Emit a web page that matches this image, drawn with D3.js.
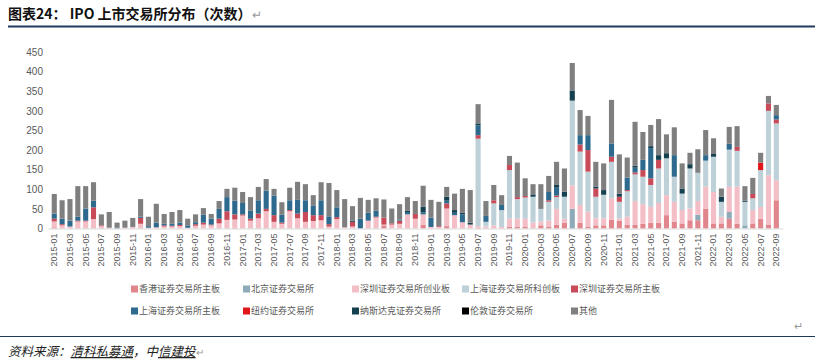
<!DOCTYPE html>
<html>
<head>
<meta charset="utf-8">
<script src="https://cdn.jsdelivr.net/npm/d3@7"></script>
<style>
  body { margin: 0; background: #fff; }
  svg { display: block; }
</style>
</head>
<body>
<div id="chart"></div>
<script>
// months 2015-01 .. 2022-09
const months = [];
for (let y = 2015; y <= 2022; y++) {
  for (let m = 1; m <= 12; m++) {
    if (y === 2022 && m > 9) break;
    months.push(y + "-" + String(m).padStart(2, "0"));
  }
}

const seriesNames = ["香港证券交易所主板", "北京证券交易所", "深圳证券交易所创业板", "上海证券交易所科创板",
  "深圳证券交易所主板", "上海证券交易所主板", "纽约证券交易所", "纳斯达克证券交易所", "伦敦证券交易所", "其他"];

// one row per year (2015 ... 2022)
const hk = [3,0,0,0,0,0,0,0,0,0,0,0,
  0,0,0,0,0,0,0,0,0,0,0,2,
  0,0,0,0,0,0,0,0,0,0,0,0,
  0,0,0,0,0,0,8,0,0,0,0,10,
  0,0,6,0,0,0,2,0,0,0,5,5,
  5,0,8,5,10,15,0,15,5,8,8,22,
  20,10,10,12,15,15,34,17,13,21,21,51,
  13,13,25,12,0,13,25,9,72];
const bj = [0,0,0,0,0,0,0,0,0,0,0,0,
  0,0,0,0,0,0,0,0,0,0,0,0,
  0,0,0,0,0,0,0,0,0,0,0,0,
  0,0,0,0,0,0,0,0,0,0,0,0,
  0,0,0,0,0,0,0,0,0,0,0,0,
  0,0,0,0,0,0,50,0,0,0,0,0,
  0,0,0,0,0,0,0,0,0,0,14,0,
  0,0,17,0,8,0,0,0,0];
const cyb = [15,8,5,18,18,24,6,2,0,2,4,12,
  2,3,5,5,6,2,7,10,8,13,22,21,
  33,20,26,44,17,12,44,26,17,19,21,5,
  24,3,5,0,20,28,2,10,12,36,25,26,
  4,4,45,34,16,10,4,5,8,4,20,20,
  20,15,10,15,40,10,60,45,38,18,18,55,
  6,20,60,50,40,50,51,51,34,30,35,56,
  80,17,64,95,0,34,30,127,51];
const kcb = [0,0,0,0,0,0,0,0,0,0,0,0,
  0,0,0,0,0,0,0,0,0,0,0,0,
  0,0,0,0,0,0,0,0,0,0,0,0,
  0,0,0,0,0,0,0,0,0,0,0,0,
  0,0,0,0,0,0,223,12,56,43,124,50,
  54,66,32,48,30,56,216,136,102,55,60,93,
  42,65,68,70,56,88,94,64,42,102,72,66,
  90,38,95,91,60,30,94,164,145];
const szMain = [7,3,0,2,2,30,2,0,0,0,0,15,
  0,0,3,2,3,0,4,5,2,12,22,13,
  3,5,12,6,17,3,3,12,25,15,13,6,
  5,0,12,0,0,2,18,3,8,0,12,0,
  0,2,13,0,0,0,9,0,8,0,13,5,
  4,0,0,4,4,0,0,18,55,21,0,13,
  13,3,5,17,17,22,0,0,0,0,0,0,
  0,0,0,10,0,11,0,19,10];
const shMain = [13,14,15,10,31,17,0,0,2,0,0,3,
  4,12,4,5,6,6,5,20,15,25,36,35,
  29,20,34,47,50,20,25,35,30,25,38,20,
  25,0,0,25,20,15,0,0,3,6,0,5,
  24,0,7,6,20,0,25,15,0,13,0,0,
  0,0,0,21,20,0,0,24,38,0,0,34,
  0,32,12,26,77,0,0,55,0,0,0,14,
  0,0,15,0,0,0,0,0,11];
const nyse = [0,0,0,0,0,0,0,0,0,0,0,0,
  0,0,0,0,0,0,0,0,0,0,0,0,
  0,0,0,0,0,0,0,0,0,0,0,0,
  0,0,0,0,0,0,0,0,0,0,0,0,
  0,0,0,0,0,0,0,0,0,0,0,0,
  0,0,0,0,0,0,0,0,0,0,0,0,
  0,0,0,0,0,0,0,0,0,0,0,0,
  0,0,0,0,0,0,19,0,0];
const nasdaq = [0,0,0,0,0,0,0,0,0,0,0,0,
  0,0,0,0,0,0,0,0,0,0,0,0,
  0,0,0,0,0,0,0,0,0,0,0,0,
  0,0,3,0,0,0,0,0,0,3,0,15,
  0,0,10,7,4,5,5,0,0,0,0,0,
  0,6,0,0,7,13,26,0,0,5,12,0,
  8,0,5,0,5,12,13,0,13,11,0,0,
  7,13,0,0,3,0,0,0,0];
const lse = new Array(93).fill(0);
const other = [50,47,55,78,57,47,28,40,13,18,23,45,
  24,48,25,30,32,17,20,17,12,20,21,33,
  28,35,34,29,17,32,32,46,41,26,46,85,
  44,72,37,53,33,32,46,38,39,35,33,53,
  45,62,25,42,61,83,49,38,39,25,23,88,
  45,26,63,41,59,59,70,64,49,63,68,111,
  100,51,112,71,54,92,48,71,64,29,60,64,
  40,21,43,53,37,41,25,19,26];

const yTicks = [0, 50, 100, 150, 200, 250, 300, 350, 400, 450];

const colors = ["#E0868C", "#8EAAB8", "#F4BEC6", "#BED0D8", "#C94B59",
  "#2E6A8E", "#E0161C", "#15404F", "#000000", "#7F7F7F"];

const seriesVals = [hk, bj, cyb, kcb, szMain, shMain, nyse, nasdaq, lse, other];

let rows = months.map((m, i) => {
  let r = { month: m };
  seriesNames.forEach((s, k) => r[s] = seriesVals[k][i]);
  return r;
});

let width = 815, height = 363;
let svg = d3.select("#chart").append("svg")
  .attr("width", width).attr("height", height);

// title
let title = svg.append("text")
  .attr("x", 8).attr("y", 19)
  .attr("font-family", "'Noto Sans CJK SC', sans-serif")
  .attr("font-size", "14px").attr("font-weight", "bold")
  .attr("fill", "#111");
title.append("tspan").text("图表24：  IPO 上市交易所分布（次数）");
title.append("tspan").attr("fill", "#999").attr("font-weight", "normal").attr("font-size", "12px").text("↵");

svg.append("line")
  .attr("x1", 8).attr("x2", 815).attr("y1", 26.5).attr("y2", 26.5)
  .attr("stroke", "#1F3A5C").attr("stroke-width", 2);

let x = d3.scaleBand()
  .domain(months)
  .range([47.8, 782.8])
  .paddingInner(0.35)
  .paddingOuter(0.5);

let y = d3.scaleLinear()
  .domain([0, 450])
  .range([228.5, 52]);

let stack = d3.stack().keys(seriesNames)(rows);

svg.append("g")
  .selectAll("g")
  .data(stack)
  .join("g")
  .attr("fill", (d, i) => colors[i])
  .selectAll("rect")
  .data(d => d)
  .join("rect")
  .attr("x", d => x(d.data.month))
  .attr("y", d => y(d[1]))
  .attr("height", d => y(d[0]) - y(d[1]))
  .attr("width", x.bandwidth());

// x axis
let xAxis = svg.append("g")
  .attr("transform", `translate(0, ${y(0)})`)
  .call(d3.axisBottom(x).tickValues(months.filter((m, i) => i % 2 === 0)).tickSize(0).tickPadding(0));
xAxis.select(".domain").attr("stroke", "#D9D9D9");
xAxis.selectAll("text")
  .attr("font-family", "'Liberation Sans', Arial, sans-serif")
  .attr("font-size", "9px")
  .attr("fill", "#595959")
  .attr("text-anchor", "end")
  .attr("transform", "rotate(-90)")
  .attr("x", -5).attr("y", 0).attr("dy", "0.32em");

// y axis
let yAxis = svg.append("g")
  .attr("transform", "translate(45, 0)")
  .call(d3.axisLeft(y).tickValues(yTicks).tickSize(0).tickPadding(2));
yAxis.select(".domain").remove();
yAxis.selectAll("text")
  .attr("font-family", "'Liberation Sans', Arial, sans-serif")
  .attr("font-size", "10px")
  .attr("fill", "#595959");

// legend
let legendCols = [131, 243, 352, 462, 571];
let legend = svg.append("g")
  .selectAll("g")
  .data(seriesNames)
  .join("g")
  .attr("transform", (d, i) => `translate(${legendCols[i % 5]}, ${i < 5 ? 289 : 311})`);
legend.append("rect")
  .attr("x", 0).attr("y", -3.5).attr("width", 7).attr("height", 7)
  .attr("fill", (d, i) => colors[i]);
legend.append("text")
  .attr("x", 8).attr("y", 0).attr("dy", "0.35em")
  .attr("font-family", "'Noto Sans CJK SC', sans-serif")
  .attr("font-size", "9px")
  .attr("fill", "#595959")
  .text(d => d);

svg.append("text")
  .attr("x", 794).attr("y", 330)
  .attr("font-size", "11px").attr("fill", "#999")
  .text("↵");

svg.append("line")
  .attr("x1", 0).attr("x2", 815).attr("y1", 336.5).attr("y2", 336.5)
  .attr("stroke", "#1F3A5C").attr("stroke-width", 1.2);

// source
let src = svg.append("text")
  .attr("x", 8).attr("y", 356)
  .attr("font-family", "'Noto Sans CJK SC', sans-serif")
  .attr("font-size", "12.5px")
  .attr("font-style", "italic")
  .attr("fill", "#222");
src.append("tspan").text("资料来源：");
src.append("tspan").attr("text-decoration", "underline").text("清科私募通");
src.append("tspan").text("，中");
src.append("tspan").attr("text-decoration", "underline").text("信建投");
src.append("tspan").attr("fill", "#999").attr("font-style", "normal").attr("font-size", "10px").text("↵");
</script>
</body>
</html>
